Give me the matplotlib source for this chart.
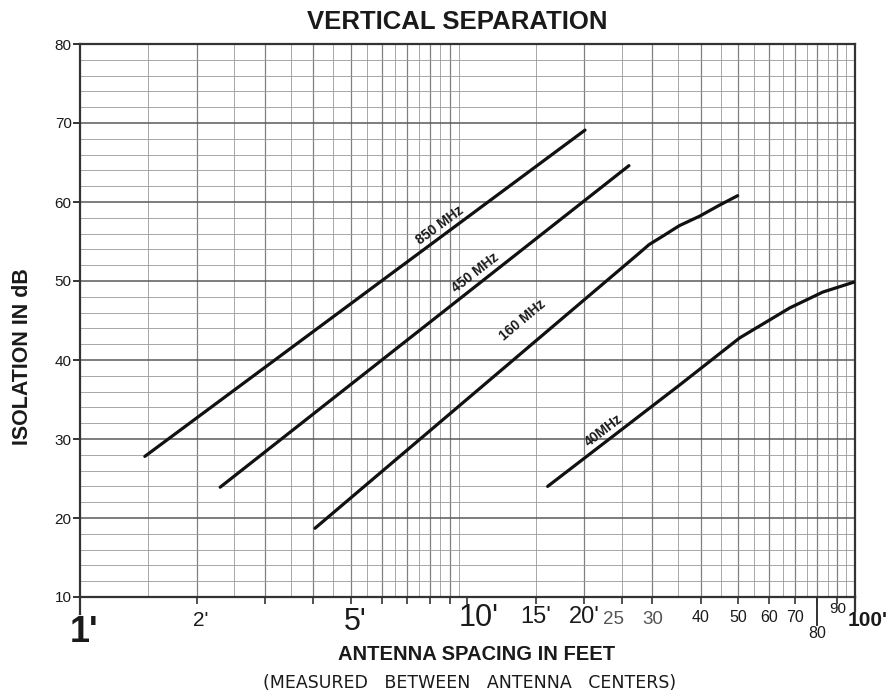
import numpy as np
import matplotlib
matplotlib.use("Agg")
import matplotlib.pyplot as plt
from matplotlib.ticker import NullFormatter, NullLocator
from matplotlib.transforms import blended_transform_factory, offset_copy

# ── DATA ──────────────────────────────────────────────────────────────────────
F850_X = [1.47, 20.1]
F850_Y = [27.8, 69.1]

F450_X = [2.30, 26.1]
F450_Y = [23.9, 64.6]

F160_X = [4.04, 27.7, 29.4, 32.2, 35.2, 39.7, 44.7, 49.8]
F160_Y = [18.7, 53.5, 54.6, 55.8, 57.0, 58.2, 59.6, 60.8]

F40_X = [16.1, 35.2, 50.4, 67.9, 82.6, 100.0]
F40_Y = [24.0, 36.8, 42.8, 46.6, 48.6, 49.9]

CURVE_LABELS = ["850 MHz", "450 MHz", "160 MHz", "40MHz"]
LABEL_X      = [8.5, 10.5, 13.9, 22.4]
LABEL_Y      = [57.0, 51.1, 45.1, 31.1]
LABEL_ROT    = [36.5, 38.0, 40.0, 37.5]

Y_TICKS = [10, 20, 30, 40, 50, 60, 70, 80]

X_TICKS     = [1, 2, 3, 4, 5, 6, 7, 8, 9, 10, 15, 20, 25, 30, 40, 50, 60, 70, 80, 90, 100]
X_LABEL_POS = [1, 2, 5, 10, 15, 20, 25, 30, 40, 50, 60, 70, 80, 90, 100]
X_LABEL_TXT = ["1'", "2'", "5'", "10'", "15'", "20'", "25", "30",
               "40", "50", "60", "70", "80", "90", "100'"]

# ── STYLE ─────────────────────────────────────────────────────────────────────
FONT = "Liberation Sans"
INK  = "#1a1a1a"
GRID = "#9a9a9a"

# per x-label: fontsize, weight, colour, dx (pt), y (px below axis)
X_LABEL_STYLE = {
    "1'":   (26, "bold",   INK,       3, 36),
    "2'":   (15, "normal", INK,       3, 23),
    "5'":   (22, "normal", INK,       3, 25),
    "10'":  (22, "normal", INK,       8, 21),
    "15'":  (17, "normal", INK,       0, 20),
    "20'":  (17, "normal", INK,       0, 20),
    "25":   (13.5, "normal", "#555555", -6, 23),
    "30":   (13.5, "normal", "#555555", 0, 23),
    "40":   (11.5, "normal", INK,     0, 21),
    "50":   (11.5, "normal", INK,     0, 21),
    "60":   (11.5, "normal", INK,     0, 21),
    "70":   (11.5, "normal", INK,     0, 21),
    "80":   (11.5, "normal", INK,     0, 36),
    "90":   (11,  "normal", INK,      0, 12),
    "100'": (15, "bold",   INK,       9, 24),
}

fig = plt.figure(figsize=(8.87, 6.95), dpi=100)
fig.patch.set_facecolor("white")
ax = fig.add_axes([80 / 887, 1 - 597 / 695, (855 - 80) / 887, (597 - 44) / 695])

ax.set_xscale("log")
ax.set_xlim(1, 100)
ax.set_ylim(10, 80)

# ── grid ──────────────────────────────────────────────────────────────────────
vgrid = list(np.arange(1.5, 10, 0.5)) + list(np.arange(15, 100, 5))
for v in vgrid:
    dark = float(v).is_integer() and (v < 10 or v % 10 == 0)
    ax.axvline(v, color="#808080" if dark else GRID, lw=0.9 if dark else 0.6, zorder=1)
for h in range(12, 80, 2):
    major = h % 10 == 0
    ax.axhline(h, color="#5a5a5a" if major else GRID, lw=1.1 if major else 0.6, zorder=1)

# ── curves ────────────────────────────────────────────────────────────────────
for xs, ys in [(F850_X, F850_Y), (F450_X, F450_Y), (F160_X, F160_Y), (F40_X, F40_Y)]:
    ax.plot(xs, ys, color="#111111", lw=2.3, solid_capstyle="round",
            solid_joinstyle="round", zorder=3)

for txt, lx, ly, rot in zip(CURVE_LABELS, LABEL_X, LABEL_Y, LABEL_ROT):
    ax.text(lx, ly, txt, rotation=rot, ha="center", va="center",
            fontsize=10, fontweight="bold", family=FONT, color=INK,
            rotation_mode="anchor", zorder=4)

# ── axes frame and ticks ──────────────────────────────────────────────────────
for s in ax.spines.values():
    s.set_color("#333333")
    s.set_linewidth(1.6)

ax.set_yticks(Y_TICKS)
ax.set_yticklabels([str(v) for v in Y_TICKS], fontsize=11, family=FONT, color=INK)
ax.tick_params(axis="y", direction="out", length=5, width=1.4, pad=1, color="#333333")

ax.xaxis.set_minor_locator(NullLocator())
ax.xaxis.set_minor_formatter(NullFormatter())
ax.set_xticks(X_TICKS)
ax.set_xticklabels([""] * len(X_TICKS))
ax.tick_params(axis="x", direction="out", length=5, width=1.2, color="#333333")

# long ticks at 1', 80 and 100'
ax.axvline(1, ymin=-0.03, ymax=0, color="#333333", lw=1.6, clip_on=False)
ax.axvline(80, ymin=-0.05, ymax=0, color="#333333", lw=1.4, clip_on=False)
ax.axvline(100, ymin=-0.025, ymax=0, color="#333333", lw=1.6, clip_on=False)

trans = blended_transform_factory(ax.transData, ax.transAxes)
for pos, txt in zip(X_LABEL_POS, X_LABEL_TXT):
    size, weight, col, dx, dy = X_LABEL_STYLE[txt]
    t = offset_copy(trans, fig=fig, x=dx, y=-dy * 0.72, units="points")
    ax.text(pos, 0, txt, transform=t, ha="center", va="center",
            fontsize=size, fontweight=weight, color=col, family=FONT)

# ── titles ────────────────────────────────────────────────────────────────────
fig.text(457 / 887, 1 - 22 / 695, "VERTICAL SEPARATION", ha="center", va="center",
         fontsize=18.5, fontweight="bold", family=FONT, color=INK)
fig.text(23 / 887, 1 - 357 / 695, "ISOLATION IN dB", ha="center", va="center",
         rotation=90, fontsize=15.5, fontweight="bold", family=FONT, color=INK)
fig.text(477 / 887, 1 - 655 / 695, "ANTENNA SPACING IN FEET", ha="center", va="center",
         fontsize=14.5, fontweight="bold", family=FONT, color=INK)
fig.text(470 / 887, 1 - 683 / 695, "(MEASURED   BETWEEN   ANTENNA   CENTERS)",
         ha="center", va="center", fontsize=12.5, family="DejaVu Sans", color=INK)

fig.savefig("out.png", dpi=100, facecolor="white")
